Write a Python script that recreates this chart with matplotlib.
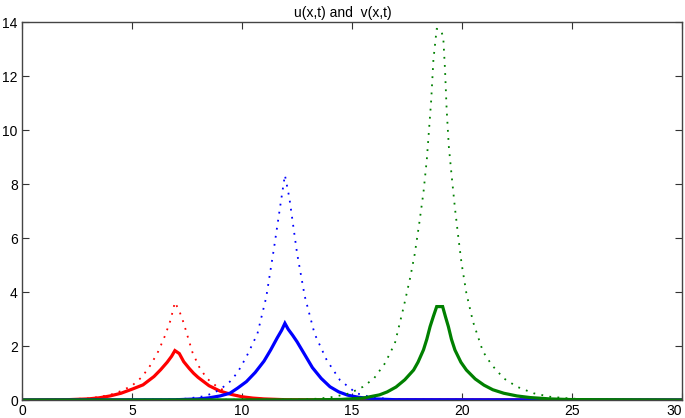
import matplotlib
matplotlib.use("Agg")
import matplotlib.pyplot as plt

plt.rcParams['font.family'] = ['Liberation Sans', 'DejaVu Sans']

# red pair (peak near x=7)
red_x = [0, 2.0, 3.0, 3.5, 4.0, 4.5, 5.0, 5.5, 6.0, 6.3, 6.6, 6.8, 6.95, 7.15, 7.35, 7.6, 7.8, 8.0, 8.5, 9.0, 9.5, 10.0, 10.5, 11.0, 12.0, 30]
red_u = [0, 0.01, 0.04, 0.08, 0.15, 0.25, 0.40, 0.56, 0.87, 1.12, 1.40, 1.62, 1.83, 1.72, 1.42, 1.17, 0.99, 0.84, 0.53, 0.33, 0.21, 0.12, 0.07, 0.04, 0.01, 0]
red_vx = [0, 2.0, 3.0, 3.5, 4.0, 4.5, 5.0, 5.45, 5.85, 6.2, 6.5, 6.75, 6.95, 7.15, 7.35, 7.55, 7.75, 8.05, 8.4, 8.9, 9.45, 10.0, 10.5, 11.0, 12.0, 30]
red_v = [0, 0.02, 0.06, 0.11, 0.19, 0.33, 0.53, 0.85, 1.30, 1.81, 2.38, 2.95, 3.62, 3.30, 2.85, 2.30, 1.76, 1.23, 0.80, 0.47, 0.25, 0.13, 0.07, 0.04, 0.01, 0]

# blue pair (peak near x=12)
blue_x = [0, 7.0, 8.0, 8.5, 9.0, 9.45, 9.8, 10.2, 10.6, 11.0, 11.3, 11.6, 11.8, 11.95, 12.1, 12.3, 12.5, 12.8, 13.2, 13.6, 14.0, 14.4, 14.8, 15.3, 16.0, 17.0, 30]
blue_u = [0, 0.01, 0.04, 0.08, 0.15, 0.25, 0.44, 0.68, 1.02, 1.44, 1.85, 2.30, 2.58, 2.84, 2.62, 2.40, 2.16, 1.75, 1.20, 0.80, 0.49, 0.30, 0.18, 0.10, 0.04, 0.01, 0]
blue_vx = [0, 6.5, 7.5, 8.2, 8.7, 9.1, 9.45, 9.8, 10.2, 10.7, 11.1, 11.45, 11.75, 11.95, 12.15, 12.5, 12.85, 13.3, 13.85, 14.45, 15.2, 15.8, 16.5, 17.5, 30]
blue_v = [0, 0.01, 0.05, 0.13, 0.25, 0.45, 0.68, 1.02, 1.60, 2.45, 3.80, 5.60, 7.25, 8.33, 7.50, 5.45, 3.85, 2.45, 1.48, 0.74, 0.25, 0.12, 0.05, 0.01, 0]

# green pair (peak near x=19)
green_x = [0, 13.0, 14.5, 15.5, 16.25, 16.6, 17.0, 17.4, 17.8, 18.0, 18.25, 18.4, 18.55, 18.7, 18.85, 19.12, 19.25, 19.38, 19.52, 19.68, 19.95, 20.2, 20.6, 21.0, 21.4, 21.9, 22.5, 23.1, 24.0, 25.0, 30]
green_u = [0, 0.005, 0.02, 0.07, 0.19, 0.30, 0.48, 0.75, 1.11, 1.40, 1.86, 2.25, 2.72, 3.10, 3.46, 3.46, 3.08, 2.72, 2.25, 1.85, 1.40, 1.11, 0.78, 0.55, 0.38, 0.25, 0.15, 0.09, 0.04, 0.015, 0]
green_vx = [0, 12.5, 13.5, 14.2, 14.9, 15.5, 16.0, 16.5, 16.95, 17.35, 17.65, 17.85, 18.05, 18.25, 18.4, 18.5, 18.6, 18.7, 18.85, 19.05, 19.15, 19.23, 19.3, 19.4, 19.53, 19.68, 19.83, 19.98, 20.2, 20.5, 20.95, 21.35, 21.9, 22.5, 23.25, 24.0, 25.0, 26.0, 30]
green_v = [0, 0.015, 0.05, 0.12, 0.25, 0.49, 0.80, 1.36, 2.10, 3.45, 4.55, 5.40, 6.50, 7.70, 8.90, 10.0, 11.1, 12.6, 13.75, 13.70, 13.40, 12.2, 10.8, 9.40, 8.30, 7.10, 6.05, 5.06, 3.95, 2.90, 1.80, 1.30, 0.80, 0.49, 0.25, 0.12, 0.05, 0.02, 0]

xticks = [0, 5, 10, 15, 20, 25, 30]
yticks = [0, 2, 4, 6, 8, 10, 12, 14]

fig = plt.figure(figsize=(6.85, 4.18), dpi=100)
ax = fig.add_axes([22 / 685, 18 / 418, 660 / 685, 378 / 418])

dots = (0, (1, 3.5))
pairs = [(red_x, red_u, red_vx, red_v, '#ff0000'),
         (blue_x, blue_u, blue_vx, blue_v, '#0000ff'),
         (green_x, green_u, green_vx, green_v, '#008000')]
for xs, us, vxs, vs, c in pairs:
    ax.plot(xs, us, color=c, lw=2.3, solid_joinstyle='miter')
    ax.plot(vxs, vs, color=c, lw=1.3, linestyle=dots)

ax.set_xlim(0, 30)
ax.set_ylim(0, 14)
ax.set_xticks(xticks)
ax.set_yticks(yticks)
ax.tick_params(direction='in', length=5, width=0.8, top=True, right=True,
               labelsize=10, pad=3, colors='#333333', labelcolor='black')
for s in ax.spines.values():
    s.set_color('#444444')
    s.set_linewidth(1.0)

# keep the last x label inside the canvas, as in the reference
ax.get_xticklabels()[-1].set_ha('right')

fig.text(0.5, 0.985, 'u(x,t) and  v(x,t)', ha='center', va='top', fontsize=10)

fig.savefig('out.png', dpi=100)
